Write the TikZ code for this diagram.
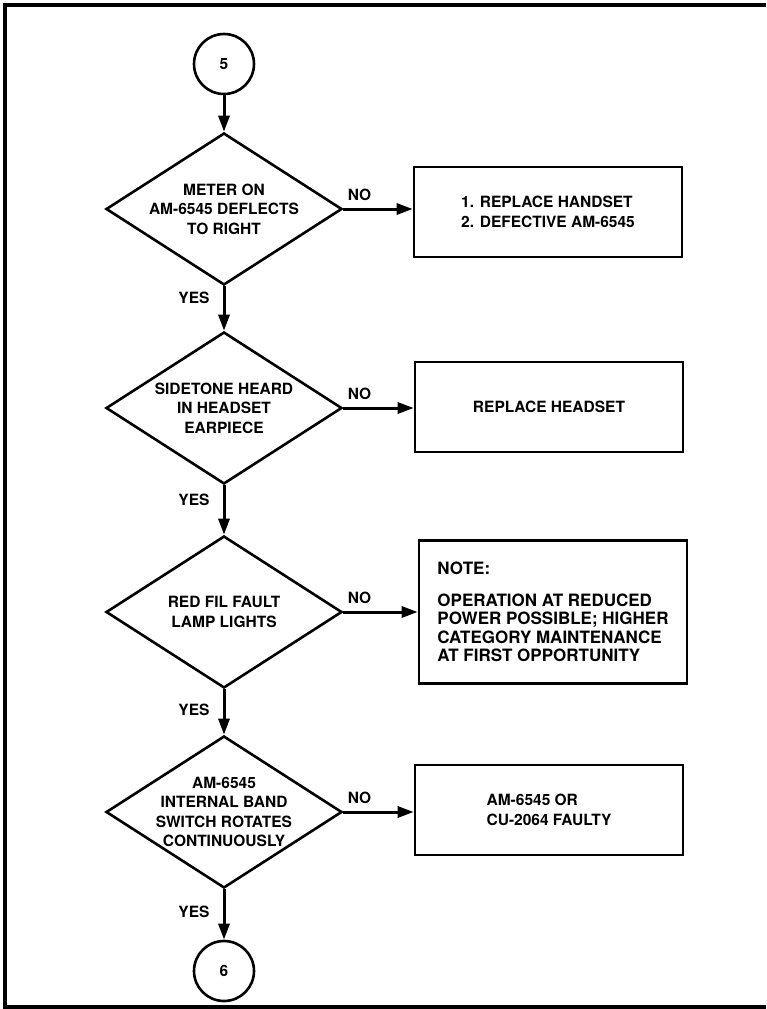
\documentclass[tikz,border=0pt]{standalone}
\usepackage{fontspec}
\setmainfont{TeX Gyre Heros}
\usetikzlibrary{shapes.geometric,arrows.meta}

\begin{document}
\begin{tikzpicture}[x=1pt,y=-1pt,
  every node/.style={font=\bfseries\fontsize{15.5}{19.5}\selectfont},
  decision/.style={diamond,draw,line width=2.6pt,inner sep=-6pt,aspect=1.55,
    minimum width=236pt,minimum height=152pt,align=center},
  action/.style={rectangle,draw,line width=2.6pt,minimum width=268pt,
    minimum height=90pt,align=center},
  connector/.style={circle,draw,line width=2.6pt,minimum size=60pt,inner sep=0pt},
  flow/.style={line width=3pt,-{Triangle[length=16pt,width=11pt]}},
  yes/.style={anchor=east,inner sep=0pt,xshift=-13pt},
  no/.style={pos=0,anchor=south west,inner sep=0pt,xshift=3pt,yshift=7pt}]
\useasboundingbox (0,0) rectangle (766,1009);
% frame, open on the right
\path[draw,line width=4pt] (766,4.5) -- (5,4.5) -- (5,1007) -- (766,1007);
% main column
\node[connector] (c5) at (224,64) {5};
\node[decision] (d1) at (224,209) {METER ON\\AM-6545 DEFLECTS\\TO RIGHT};
\node[decision] (d2) at (224,408) {SIDETONE HEARD\\IN HEADSET\\EARPIECE};
\node[decision] (d3) at (224,612) {RED FIL FAULT\\LAMP LIGHTS};
\node[decision] (d4) at (224,812) {AM-6545\\INTERNAL BAND\\SWITCH ROTATES\\CONTINUOUSLY};
\node[connector] (c6) at (224,971) {6};
% actions on the right
\node[action,align=left] (b1) at (548,212) {1. REPLACE HANDSET\\2. DEFECTIVE AM-6545};
\node[action] (b2) at (549,407) {REPLACE HEADSET};
\node[action,minimum height=143pt,align=left,
  font=\bfseries\fontsize{17}{18.5}\selectfont] (b3) at (553,612)
  {NOTE:\\[13pt]OPERATION AT REDUCED\\POWER POSSIBLE; HIGHER\\CATEGORY MAINTENANCE\\AT FIRST OPPORTUNITY};
\node[action,align=left] (b4) at (549,810) {AM-6545 OR\\CU-2064 FAULTY};
% yes branches
\path[flow,draw] (c5) to (d1);
\path[flow,draw] (d1) to node[yes,pos=.27] (y1) {YES} (d2);
\path[flow,draw] (d2) to node[yes,pos=.29] (y2) {YES} (d3);
\path[flow,draw] (d3) to node[yes,pos=.45] (y3) {YES} (d4);
\path[flow,draw] (d4) to node[yes,pos=.44] (y4) {YES} (c6);
% no branches
\path[flow,draw] (d1.east) to node[no] (n1) {NO} (b1.west |- d1.east);
\path[flow,draw] (d2.east) to node[no] (n2) {NO} (b2.west |- d2.east);
\path[flow,draw] (d3.east) to node[no] (n3) {NO} (b3.west |- d3.east);
\path[flow,draw] (d4.east) to node[no] (n4) {NO} (b4.west |- d4.east);
\end{tikzpicture}
\end{document}
